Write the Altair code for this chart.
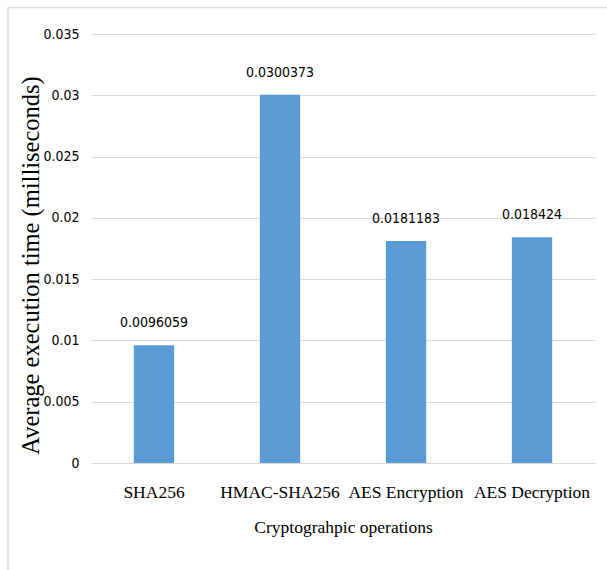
import altair as alt
import pandas as pd

# Mean execution time of each cryptographic operation, in milliseconds
operations = ["SHA256", "HMAC-SHA256", "AES Encryption", "AES Decryption"]
avg_times = [0.0096059, 0.0300373, 0.0181183, 0.018424]
value_labels = ["0.0096059", "0.0300373", "0.0181183", "0.018424"]
y_ticks = [0, 0.005, 0.01, 0.015, 0.02, 0.025, 0.03, 0.035]

df = pd.DataFrame({"operation": operations, "time": avg_times, "label": value_labels})

NUM_FONT = "Liberation Sans Narrow, Arial Narrow, DejaVu Sans Condensed, sans-serif"
SERIF = "Liberation Serif, Times New Roman, serif"
GRID = "#D9D9D9"

x_enc = alt.X(
    "operation:N",
    sort=operations,
    scale=alt.Scale(paddingInner=0.68, paddingOuter=0.34),
    axis=alt.Axis(
        title="Cryptograhpic operations",
        labelAngle=0,
        labelFont=SERIF,
        labelFontSize=17.5,
        labelColor="#000000",
        labelPadding=20,
        ticks=False,
        tickSize=0,
        domain=False,
        titleFont=SERIF,
        titleFontSize=17.5,
        titleFontWeight="normal",
        titleColor="#000000",
        titleY=64,
        titleBaseline="middle",
    ),
)

y_enc = alt.Y(
    "time:Q",
    scale=alt.Scale(domain=[0, 0.035], nice=False),
    axis=alt.Axis(
        values=y_ticks,
        format="~g",
        title="Average execution time (milliseconds)",
        labelFont=NUM_FONT,
        labelFontSize=14,
        labelColor="#000000",
        labelPadding=12,
        ticks=False,
        tickSize=0,
        domain=False,
        gridColor=GRID,
        gridWidth=1,
        titleFont=SERIF,
        titleFontSize=24.5,
        titleFontWeight="normal",
        titleColor="#000000",
        titleX=-60,
        titleY=231,
        titleAngle=270,
        titleAlign="center",
        titleBaseline="middle",
    ),
)

bars = alt.Chart(df).mark_bar(color="#5B9BD5").encode(x=x_enc, y=y_enc)

labels = alt.Chart(df).mark_text(
    font=NUM_FONT, fontSize=14, color="#000000", baseline="alphabetic", dy=-18
).encode(x=alt.X("operation:N", sort=operations), y="time:Q", text="label:N")

# Light frame along the top and left of the chart
frame = alt.Data(values=[{}])
top_edge = alt.Chart(frame).mark_rule(color=GRID, strokeWidth=1.5).encode(
    x=alt.value(-83), x2=alt.value(516), y=alt.value(-26.5)
)
left_edge = alt.Chart(frame).mark_rule(color=GRID, strokeWidth=1.5).encode(
    x=alt.value(-83), y=alt.value(-27), y2=alt.value(536)
)

chart = (
    alt.layer(bars, labels, top_edge, left_edge)
    .properties(
        width=504,
        height=429,
        padding={"left": 91, "top": 34, "right": 12, "bottom": 107},
        autosize=alt.AutoSizeParams(type="none"),
        background="#FFFFFF",
    )
    .configure_view(stroke=None)
)

chart.save("out.html", embed_options={"renderer": "svg", "actions": False})
